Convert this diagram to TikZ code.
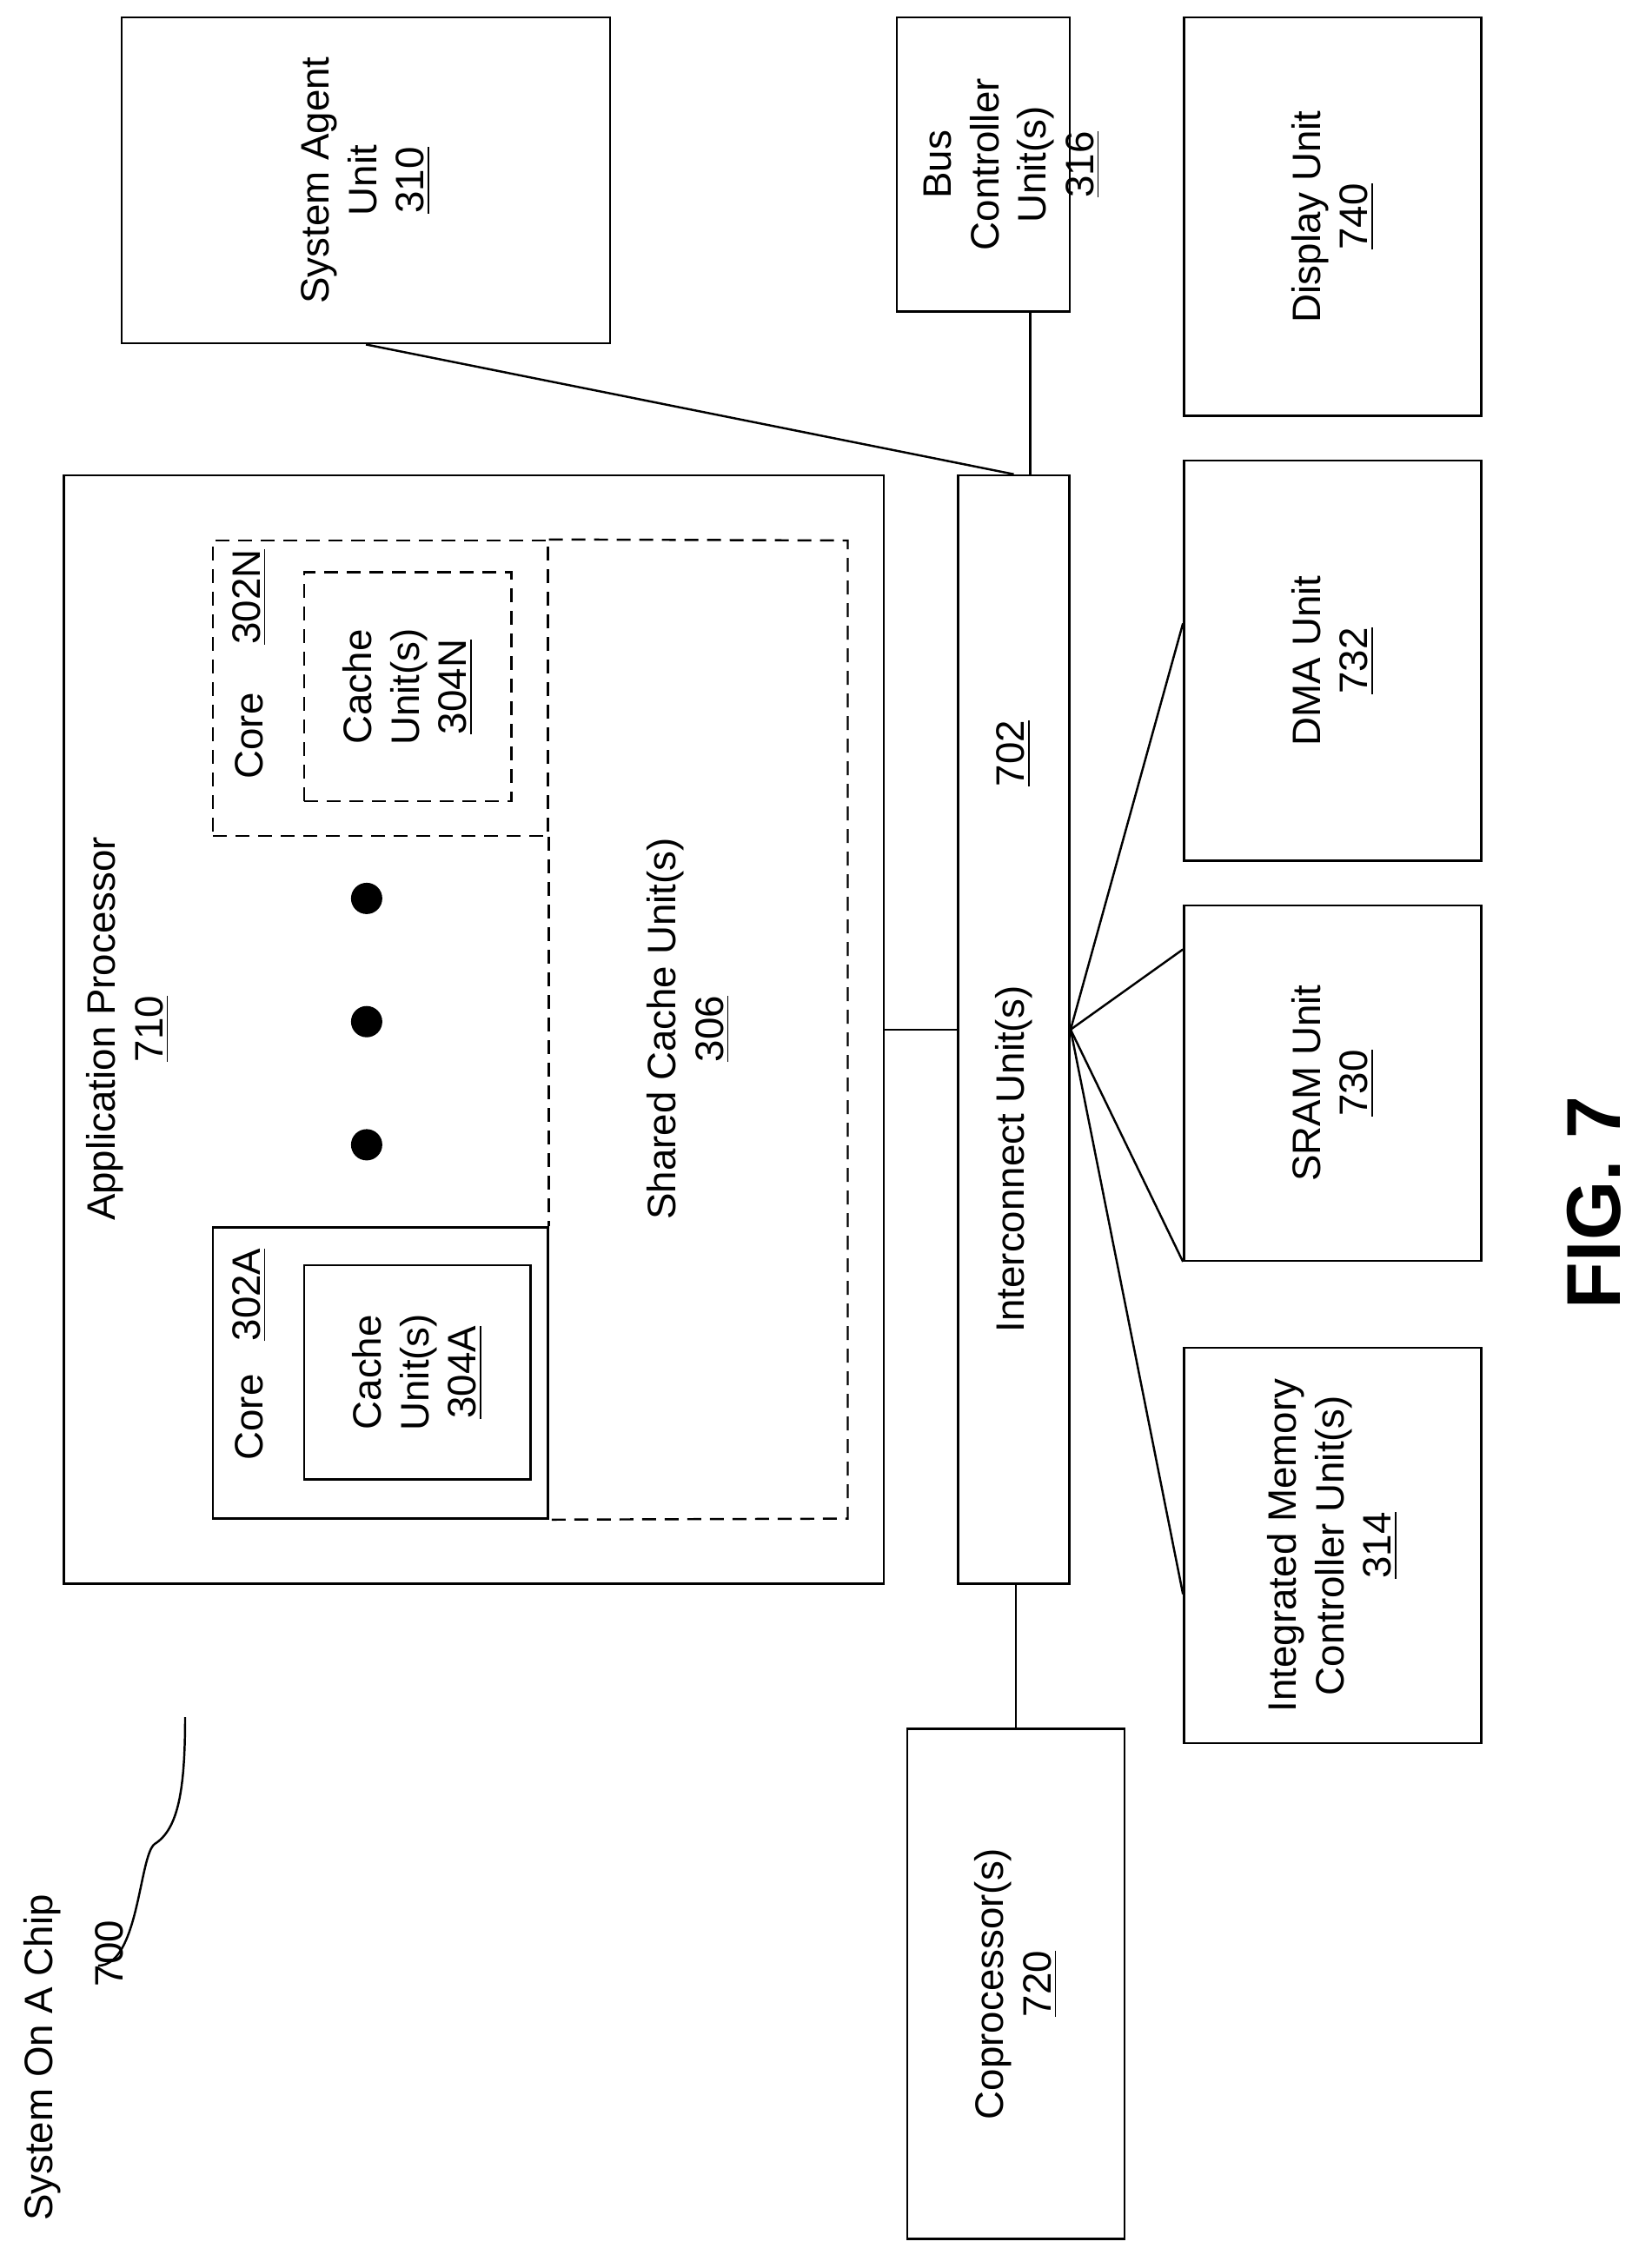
\documentclass[tikz,border=0pt]{standalone}
\usepackage{fontspec}
\setmainfont{Liberation Sans}
\usetikzlibrary{positioning}
\begin{document}
\begin{tikzpicture}[
  box/.style={draw, line width=0.7pt, rectangle, inner sep=0pt},
  dbox/.style={box, dash pattern=on 0.16cm off 0.1cm},
  txt/.style={rotate=90, align=center, font=\fontsize{13}{15.5}\selectfont},
  wire/.style={line width=0.7pt}]
\useasboundingbox (0,0) rectangle (18.86,-26.10);
%boxes
\node[box, minimum width=5.62cm, minimum height=3.752cm] (sa) at (4.211,-2.076) {};
\node[box, minimum width=1.985cm, minimum height=3.385cm] (bc) at (11.315,-1.893) {};
\node[box, minimum width=3.419cm, minimum height=4.586cm] (du) at (15.334,-2.493) {};
\node[box, minimum width=9.438cm, minimum height=12.757cm] (ap) at (5.453,-11.848) {};
\node[box, minimum width=1.284cm, minimum height=12.757cm] (ic) at (11.665,-11.848) {};
\node[box, minimum width=3.419cm, minimum height=4.603cm] (dma) at (15.334,-7.604) {};
\node[box, minimum width=3.419cm, minimum height=4.085cm] (sram) at (15.334,-12.465) {};
\node[box, minimum width=3.419cm, minimum height=4.552cm] (imc) at (15.334,-17.785) {};
\node[box, minimum width=2.502cm, minimum height=5.870cm] (cop) at (11.690,-22.829) {};
%cores
\node[dbox, minimum width=3.853cm, minimum height=3.402cm] (coreN) at (4.377,-7.921) {};
\node[dbox, minimum width=2.385cm, minimum height=2.635cm] (cacheN) at (4.694,-7.904) {};
\node[box, minimum width=3.853cm, minimum height=3.351cm] (coreA) at (4.377,-15.800) {};
\node[box, minimum width=2.601cm, minimum height=2.468cm] (cacheA) at (4.803,-15.792) {};
%shared cache
\draw[wire, dash pattern=on 0.16cm off 0.1cm] (coreN.north east) -- (9.755,-6.220) -- (9.755,-17.476) -- (coreA.south east);
\draw[wire, dash pattern=on 0.16cm off 0.1cm] (coreN.south east) -- (coreA.north east);
%texts
\node[txt] at (sa) {System Agent\\Unit\\\underline{310}};
\node[txt] at ([xshift=0.33cm]bc.center) {Bus\\Controller\\Unit(s)\\\underline{316}};
\node[txt] at (du) {Display Unit\\\underline{740}};
\node[txt] at (1.47,-11.84) {Application Processor\\\underline{710}};
\node[txt] at (7.92,-11.84) {Shared Cache Unit(s)\\\underline{306}};
\node[txt] at (2.868,-8.47) {Core};
\node[txt] at (2.868,-6.87) {\underline{302N}};
\node[txt] at (cacheN) {Cache\\Unit(s)\\\underline{304N}};
\node[txt] at (2.868,-16.31) {Core};
\node[txt] at (2.868,-14.90) {\underline{302A}};
\node[txt] at (cacheA) {Cache\\Unit(s)\\\underline{304A}};
\node[txt] at (11.665,-13.34) {Interconnect Unit(s)};
\node[txt] at (11.665,-8.67) {\underline{702}};
\node[txt] at (dma) {DMA Unit\\\underline{732}};
\node[txt] at (sram) {SRAM Unit\\\underline{730}};
\node[txt] at (imc) {Integrated Memory\\Controller Unit(s)\\\underline{314}};
\node[txt] at (cop) {Coprocessor(s)\\\underline{720}};
\node[txt, font=\fontsize{25}{28}\selectfont\bfseries] at (18.34,-13.84) {FIG. 7};
\node[txt, font=\fontsize{13}{23}\selectfont] (soc) at (0.85,-23.68) {System On A Chip\\\hspace*{2.4cm}700};
%dots
\foreach \y in {-10.339,-11.757,-13.174}
  \fill (4.219,\y) circle (0.18);
%connectors
\coordinate (icb) at ([xshift=0.19cm]ic.north);
\draw[wire] (sa.south) -- (ic.north);
\draw[wire] (icb) -- (icb |- bc.south);
\draw[wire] (ap.east) -- (ic.west);
\draw[wire] (ic.east) -- ([yshift=0.43cm]dma.west);
\draw[wire] (ic.east) -- ([yshift=1.54cm]sram.west);
\draw[wire] (ic.east) -- (sram.south west);
\draw[wire] (ic.east) -- ([yshift=-0.56cm]imc.west);
\draw[wire] (cop.north) -- (cop.north |- ic.south);
\draw[wire] (1.13,-22.62) .. controls (1.6,-22.62) and (1.6,-21.35) .. (1.78,-21.22) .. controls (2.05,-21.05) and (2.13,-20.6) .. (2.13,-19.76);
\end{tikzpicture}
\end{document}
